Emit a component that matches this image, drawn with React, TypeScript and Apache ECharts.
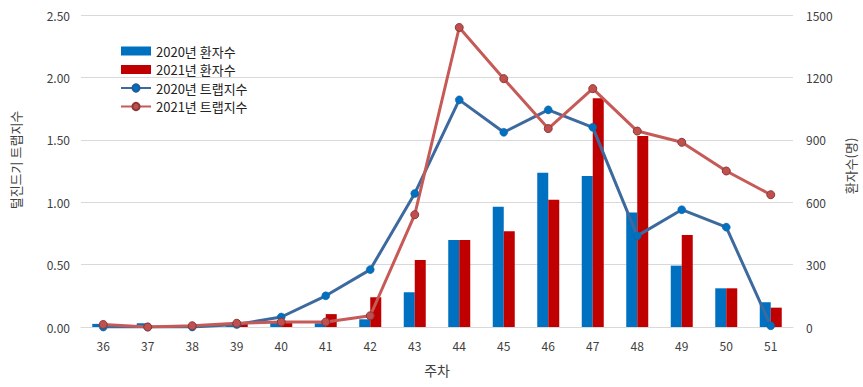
import React, { useEffect, useRef } from "react";
import * as echarts from "echarts";

const weeks = ["36", "37", "38", "39", "40", "41", "42", "43", "44", "45", "46", "47", "48", "49", "50", "51"];
const patients2020 = [15, 18, 2, 5, 24, 18, 37, 167, 418, 578, 742, 726, 550, 295, 186, 119];
const patients2021 = [10, 3, 3, 24, 20, 62, 143, 322, 418, 460, 612, 1100, 918, 442, 186, 93];
const trap2020 = [0.0, 0.0, 0.0, 0.02, 0.08, 0.25, 0.46, 1.07, 1.82, 1.56, 1.74, 1.6, 0.73, 0.94, 0.8, 0.01];
const trap2021 = [0.02, 0.0, 0.01, 0.03, 0.04, 0.04, 0.09, 0.9, 2.4, 1.99, 1.59, 1.91, 1.57, 1.48, 1.25, 1.06];
const leftTicks = { min: 0, max: 2.5, interval: 0.5 };
const rightTicks = { min: 0, max: 1500, interval: 300 };
const leftTitle = "털진드기 트랩지수";
const rightTitle = "환자수(명)";
const xTitle = "주차";

const FONT = "'Noto Sans CJK KR', 'Noto Sans', sans-serif";

export default function App() {
  const ref = useRef<HTMLDivElement>(null);
  useEffect(() => {
    document.body.style.margin = "0";
    const chart = echarts.init(ref.current!, undefined, { renderer: "svg" });
    chart.setOption({
      animation: false,
      textStyle: { fontFamily: FONT },
      grid: { left: 81, right: 70, top: 15, bottom: 60 },
      legend: {
        orient: "vertical",
        left: 120,
        top: 44,
        padding: 0,
        itemWidth: 30,
        itemHeight: 9,
        itemGap: 4.5,
        textStyle: { fontSize: 13, color: "#222", lineHeight: 14, fontFamily: FONT },
        data: [
          { name: "2020년 환자수", icon: "rect" },
          { name: "2021년 환자수", icon: "rect" },
          "2020년 트랩지수",
          "2021년 트랩지수",
        ],
      },
      graphic: [
        {
          type: "text",
          x: 15,
          y: 160,
          rotation: Math.PI / 2,
          style: { text: leftTitle, fontSize: 13, fill: "#404040", fontFamily: FONT, align: "center", verticalAlign: "middle" },
        },
        {
          type: "text",
          x: 850,
          y: 166,
          rotation: Math.PI / 2,
          style: { text: rightTitle, fontSize: 13, fill: "#404040", fontFamily: FONT, align: "center", verticalAlign: "middle" },
        },
      ],
      xAxis: {
        type: "category",
        data: weeks,
        name: xTitle,
        nameLocation: "middle",
        nameGap: 36,
        nameTextStyle: { fontSize: 14, color: "#404040" },
        axisLine: { lineStyle: { color: "#d9d9d9", width: 1 } },
        axisTick: { show: false },
        axisLabel: { fontSize: 12, color: "#404040", margin: 12 },
      },
      yAxis: [
        {
          type: "value",
          ...leftTicks,
          axisLabel: { fontSize: 12, color: "#404040", margin: 11, formatter: (v: number) => v.toFixed(2) },
          splitLine: { lineStyle: { color: "#d9d9d9", width: 1 } },
          axisLine: { show: false },
          axisTick: { show: false },
        },
        {
          type: "value",
          ...rightTicks,
          axisLabel: { fontSize: 12, color: "#404040", margin: 13, formatter: (v: number) => String(v) },
          splitLine: { show: false },
          axisLine: { show: false },
          axisTick: { show: false },
        },
      ],
      series: [
        {
          name: "2020년 환자수",
          type: "bar",
          yAxisIndex: 1,
          data: patients2020,
          barWidth: 11,
          barGap: "0%",
          itemStyle: { color: "#0070C0" },
        },
        {
          name: "2021년 환자수",
          type: "bar",
          yAxisIndex: 1,
          data: patients2021,
          barWidth: 11,
          barGap: "0%",
          itemStyle: { color: "#C00000" },
        },
        {
          name: "2020년 트랩지수",
          type: "line",
          yAxisIndex: 0,
          data: trap2020,
          symbol: "circle",
          symbolSize: 8,
          lineStyle: { color: "#3D6A9E", width: 3 },
          itemStyle: { color: "#0070C0", borderColor: "#1F5C99", borderWidth: 0.5 },
        },
        {
          name: "2021년 트랩지수",
          type: "line",
          yAxisIndex: 0,
          data: trap2021,
          symbol: "circle",
          symbolSize: 8,
          lineStyle: { color: "#C55A57", width: 3 },
          itemStyle: { color: "#C0504D", borderColor: "#8C3836", borderWidth: 1 },
        },
      ],
    });
    return () => chart.dispose();
  }, []);
  return <div ref={ref} style={{ width: 863, height: 387 }} />;
}
